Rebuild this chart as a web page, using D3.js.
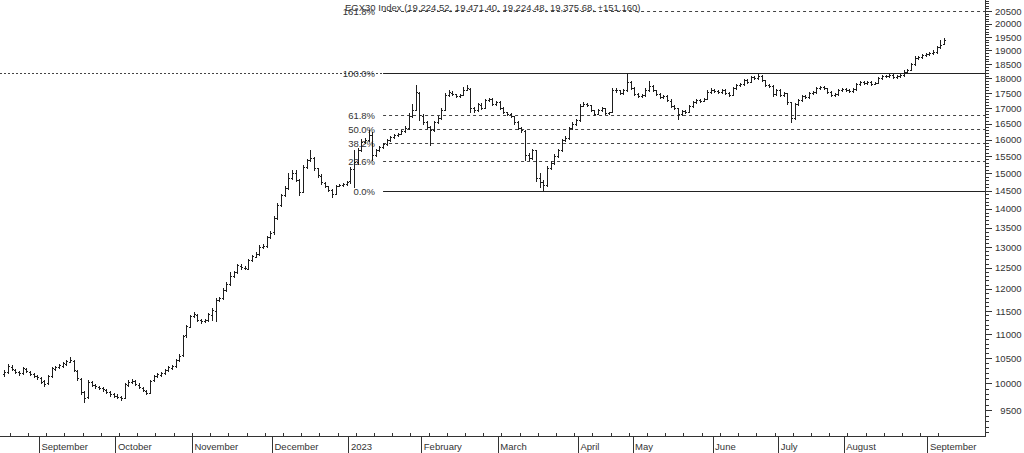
<!doctype html>
<html>
<head>
<meta charset="utf-8">
<script type='text/javascript' src='https://d3js.org/d3.v7.min.js'></script>
<style>
body { margin: 0; background: #fff; }
svg { display: block; font-family: "Liberation Sans", Arial, sans-serif; }
</style>
</head>
<body>
<script>
var width = 1024, height = 453;

// daily OHLC bars, Aug 2022 .. Sep 2023
var opens = [
 // Aug 2022
 10180,10230,10330,10270,10230,10210,10290,10230,10180,10150,
 // Sep
 10110,10040,10000,10150,10290,10330,10350,10390,10430,10450,10250,10090,9840,9740,10020,9980,9940,9920,9880,9830,9790,
 // Oct
 9770,9740,9730,9980,10020,10040,9980,9920,9860,9820,10060,10150,10170,10210,10270,10310,10350,10470,10560,10970,11160,
 // Nov
 11390,11420,11300,11270,11310,11420,11500,11750,11790,11980,12120,12310,12400,12550,12500,12480,12690,12770,12830,13010,13040,13250,
 // Dec
 13380,13760,14110,14390,14580,14860,15010,14790,14470,15190,15370,15430,15140,14930,14730,14620,14510,14420,14640,14660,14690,
 // Jan 2023
 14760,15120,15330,15690,15930,15990,16130,15540,15690,15780,15870,15990,16090,16150,16180,16270,16370,16750,16950,17520,
 // Feb
 16760,16540,16380,16310,16560,16690,16950,17440,17520,17460,17410,17440,17610,17650,17010,16950,17120,17020,17260,17290,17140,
 // Mar
 17190,16990,16860,16800,16730,16540,16350,16280,15540,15450,15670,14870,14750,14670,15150,15300,15510,15690,15990,16050,16370,16490,
 // Apr
 16620,17080,17140,17090,16930,16820,16950,16990,16850,16880,17600,17590,17490,17610,17870,
 // May
 17660,17460,17400,17440,17600,17730,17590,17460,17380,17390,17250,17060,16990,16820,16900,16880,17080,17210,17260,17240,17310,17540,
 // Jun
 17610,17570,17540,17600,17490,17440,17680,17770,17820,17940,17890,18040,18020,18080,17940,17770,17730,17480,
 // Jul
 17600,17440,17490,17190,16690,17140,17270,17390,17380,17500,17540,17670,17700,17660,17530,17440,17480,17610,
 // Aug
 17650,17610,17580,17650,17820,17870,17850,17870,17820,17850,18020,18080,18090,18110,18050,18090,18120,18230,18300,18510,18720,18770,18840,
 // Sep
 18880,18910,18950,19130,19224.52
];
var highs = [
 10260,10380,10360,10290,10250,10330,10310,10250,10200,10170,
 10130,10070,10160,10320,10350,10390,10420,10460,10530,10470,10270,10100,9860,10060,10050,9990,9960,9940,9900,9850,9810,
 9790,9760,10010,10060,10090,10060,10000,9940,9880,10070,10170,10210,10230,10280,10340,10370,10480,10580,10990,11200,11420,
 11480,11440,11330,11320,11450,11560,11800,11820,12010,12150,12400,12430,12600,12580,12530,12720,12810,12880,13050,13080,13300,13420,
 13800,14150,14420,14620,14990,15080,15090,14820,15230,15420,15680,15460,15160,14960,14750,14640,14540,14660,14690,14720,14780,
 15180,15680,15750,16020,16060,16290,16230,15710,15800,15900,16020,16120,16170,16210,16300,16420,16840,17150,17780,17540,
 16800,16580,16420,16590,16730,17000,17500,17600,17560,17480,17480,17700,17760,17680,17050,17170,17160,17300,17340,17320,17240,
 17230,17030,16890,16830,16760,16570,16400,16300,15600,15720,15690,14990,14800,15200,15340,15560,15720,16030,16120,16400,16540,16650,
 17130,17190,17170,17120,16950,16960,17050,17020,16890,17680,17670,17610,17640,18190,17900,
 17700,17500,17470,17690,17900,17760,17620,17490,17430,17420,17290,17110,17010,16940,16950,17100,17230,17310,17290,17330,17610,17660,
 17650,17620,17640,17630,17530,17700,17800,17860,17990,17970,18090,18090,18190,18110,17960,17800,17760,17640,
 17640,17530,17510,17210,17160,17310,17440,17430,17540,17580,17700,17740,17740,17680,17560,17500,17640,17680,
 17690,17650,17670,17850,17930,17900,17900,17900,17870,18050,18130,18130,18160,18140,18120,18160,18300,18330,18560,18780,18800,18870,18910,
 18950,19010,19180,19390,19471.40
];
var lows = [
 10140,10210,10260,10200,10170,10190,10220,10160,10120,10090,
 10000,9960,9990,10130,10270,10310,10330,10370,10420,10240,10070,9800,9650,9720,9950,9920,9890,9860,9810,9770,9740,
 9720,9690,9720,9960,10000,9970,9910,9850,9790,9810,10040,10130,10150,10190,10250,10290,10330,10450,10540,10940,11140,
 11370,11280,11240,11250,11290,11300,11290,11720,11770,11960,12100,12280,12380,12480,12460,12460,12660,12750,12800,12980,13020,13230,
 13350,13740,14080,14360,14560,14830,14770,14370,14450,15160,15350,15100,14900,14700,14600,14480,14330,14400,14620,14640,14670,
 14720,14600,15280,15660,15900,15960,15380,15500,15660,15750,15850,15960,16060,16120,16160,16240,16340,16700,16940,16620,
 16500,16350,15830,16280,16530,16650,16930,17400,17440,17380,17380,17420,17590,16870,16880,16920,16970,17000,17240,17100,17100,
 16960,16840,16780,16700,16500,16320,16240,15380,15380,15400,14770,14600,14480,14640,15120,15270,15480,15660,15950,16020,16340,16460,
 16580,17060,17080,16910,16780,16800,16920,16820,16810,16860,17540,17460,17470,17580,17640,
 17430,17370,17380,17400,17580,17570,17440,17340,17350,17240,17040,16970,16640,16790,16840,16860,17050,17180,17200,17220,17290,17520,
 17540,17500,17520,17470,17400,17420,17650,17740,17790,17850,17870,17990,17990,17900,17750,17700,17400,17450,
 17400,17400,17150,16550,16650,17100,17240,17340,17350,17470,17520,17640,17640,17500,17400,17410,17450,17580,
 17570,17540,17550,17620,17790,17810,17820,17780,17800,17830,17990,18040,18060,18020,18020,18060,18100,18200,18280,18480,18690,18740,18800,
 18840,18870,18920,19100,19224.48
];
var closes = [
 10220,10340,10280,10220,10200,10300,10240,10180,10145,10125,
 10030,9990,10145,10300,10320,10360,10400,10440,10460,10260,10100,9835,9720,10030,9970,9950,9910,9890,9835,9795,9760,
 9740,9720,9990,10030,10050,9990,9930,9870,9815,10050,10145,10180,10200,10260,10320,10340,10460,10540,10955,11170,11385,
 11430,11300,11280,11300,11430,11520,11740,11785,11970,12110,12300,12395,12560,12510,12490,12680,12780,12830,13000,13030,13260,13360,
 13755,14100,14380,14570,14855,15000,14800,14460,15175,15380,15440,15145,14940,14740,14630,14516,14405,14630,14657,14685,14740,
 15115,15320,15680,15925,15985,16140,15530,15680,15770,15865,15985,16080,16140,16170,16265,16360,16740,16940,17535,16775,
 16550,16390,16296,16550,16680,16937,17435,17535,17470,17400,17435,17603,17670,17000,16937,17130,17000,17267,17300,17130,17200,
 17000,16870,16810,16740,16550,16360,16296,15530,15440,15680,14855,14740,14657,15145,15290,15500,15680,15985,16045,16360,16485,16613,
 17070,17130,17100,16937,16810,16937,17000,16840,16870,17603,17603,17500,17603,17880,17670,
 17470,17400,17435,17603,17740,17603,17470,17370,17400,17267,17070,17000,16810,16905,16870,17070,17200,17267,17230,17300,17535,17603,
 17570,17535,17603,17500,17435,17670,17775,17810,17946,17880,18050,18015,18085,17946,17775,17740,17470,17603,
 17435,17500,17200,16680,17130,17267,17400,17370,17500,17535,17670,17705,17670,17535,17435,17470,17603,17640,
 17603,17570,17640,17810,17880,17845,17880,17810,17845,18015,18085,18085,18120,18050,18085,18120,18225,18294,18505,18720,18760,18830,18870,
 18900,18940,19125,19200,19375.68
];

// month labels and the bar index where each month starts
var monthLabels = ['September','October','November','December','2023','February','March','April','May','June','July','August','September'];
var monthStarts = [10,31,52,74,95,115,136,158,173,195,213,231,254];

// price axis ticks
var priceTicks = d3.range(9500, 20501, 500);
var minorTicks = d3.range(9100, 20901, 100);

// fibonacci retracement (March low -> high)
var fibLow = 14480, fibHigh = 18190, fibStart = 104;
var fibLevels = [0, 0.236, 0.382, 0.5, 0.618, 1, 1.618];
var fibLabels = ['0.0%','23.6%','38.2%','50.0%','61.8%','100.0%','161.8%'];

var title = 'EGX30 Index (19,224.52, 19,471.40, 19,224.48, 19,375.68, +151.160)';

var bars = closes.map(function(c, i) {
  return {i: i, o: opens[i], h: highs[i], l: lows[i], c: c};
});

var axisX = 985, axisY = 436.5;
var x = d3.scaleLinear().domain([-1.2, 269.3]).range([0, axisX]);
var y = d3.scaleLog().domain([9020, 20940]).range([437, 0]);

var svg = d3.select('body').append('svg').attr('width', width).attr('height', height);
svg.append('rect').attr('width', width).attr('height', height).attr('fill', '#fff');

var ink = '#333', barInk = '#1e1e1e';

// fib lines
var fib = svg.append('g');
fib.append('line')
  .attr('x1', 0).attr('x2', axisX)
  .attr('y1', Math.round(y(fibHigh)) + 0.5).attr('y2', Math.round(y(fibHigh)) + 0.5)
  .attr('stroke', '#444').attr('stroke-dasharray', '2,2');
fibLevels.forEach(function(f, k) {
  var v = fibLow + (fibHigh - fibLow) * f;
  var yy = Math.round(y(v)) + 0.5;
  var solid = (f === 0 || f === 1);
  fib.append('line')
    .attr('x1', x(fibStart)).attr('x2', axisX)
    .attr('y1', yy).attr('y2', yy)
    .attr('stroke', solid ? '#222' : '#444')
    .attr('stroke-dasharray', solid ? null : '3,3');
  fib.append('text')
    .attr('x', x(fibStart) - 8).attr('y', yy).attr('dy', '0.35em')
    .attr('text-anchor', 'end').attr('font-size', 9.5).attr('fill', ink)
    .text(fibLabels[k]);
});

// title
svg.append('text').attr('x', 345).attr('y', 11)
  .attr('font-size', 9.5).attr('fill', ink).text(title);

// OHLC bars
var g = svg.append('g').attr('shape-rendering', 'crispEdges').attr('fill', barInk);
var bar = g.selectAll('g.bar').data(bars).join('g').attr('class', 'bar');
bar.append('rect')
  .attr('x', function(d) { return Math.round(x(d.i)); })
  .attr('y', function(d) { return Math.round(y(d.h)); })
  .attr('width', 1)
  .attr('height', function(d) { return Math.max(1, Math.round(y(d.l)) - Math.round(y(d.h)) + 1); });
bar.append('rect')
  .attr('x', function(d) { return Math.round(x(d.i)) - 1; })
  .attr('y', function(d) { return Math.round(y(d.o)); })
  .attr('width', 1).attr('height', 1);
bar.append('rect')
  .attr('x', function(d) { return Math.round(x(d.i)) + 1; })
  .attr('y', function(d) { return Math.round(y(d.c)); })
  .attr('width', 1).attr('height', 1);

// right price axis
var yAxis = svg.append('g').attr('transform', 'translate(' + (axisX + 0.5) + ',0)');
yAxis.call(d3.axisRight(y).tickValues(minorTicks).tickSize(3).tickSizeOuter(0).tickFormat(''));
yAxis.call(function(s) { s.selectAll('.tick line').attr('stroke', ink); });
var yMajor = svg.append('g').attr('transform', 'translate(' + (axisX + 0.5) + ',0)');
yMajor.call(d3.axisRight(y).tickValues(priceTicks).tickSize(6).tickSizeOuter(0).tickFormat(d3.format('d')));
yMajor.select('.domain').remove();
yMajor.selectAll('text').attr('x', 36).attr('text-anchor', 'end')
  .attr('font-size', 9.5).attr('fill', ink).attr('font-family', null);
svg.selectAll('.domain').attr('stroke', ink);
svg.selectAll('.tick line').attr('stroke', ink);
yAxis.select('.domain').attr('d', 'M0,0V' + axisY);

// bottom time axis: weekly ticks up, month separators down
var weekTicks = d3.range(2, closes.length, 5).map(function(i) { return i - 0.5; });
var xAxis = svg.append('g').attr('transform', 'translate(0,' + axisY + ')');
xAxis.call(d3.axisTop(x).tickValues(weekTicks).tickSize(4).tickSizeOuter(0).tickFormat(''));
xAxis.select('.domain').attr('d', 'M0,0H' + (axisX + 0.5));
var months = svg.append('g').attr('transform', 'translate(0,' + axisY + ')');
months.call(d3.axisBottom(x).tickValues(monthStarts.map(function(i) { return i - 0.5; }))
  .tickSize(17).tickSizeOuter(0)
  .tickFormat(function(d, k) { return monthLabels[k]; }));
months.select('.domain').remove();
months.selectAll('text').attr('x', 2).attr('y', 7).attr('text-anchor', 'start')
  .attr('font-size', 9.5).attr('fill', ink);
svg.selectAll('.tick line').attr('stroke', ink).attr('shape-rendering', 'crispEdges');
svg.selectAll('.domain').attr('stroke', ink).attr('shape-rendering', 'crispEdges');
</script>
</body>
</html>
